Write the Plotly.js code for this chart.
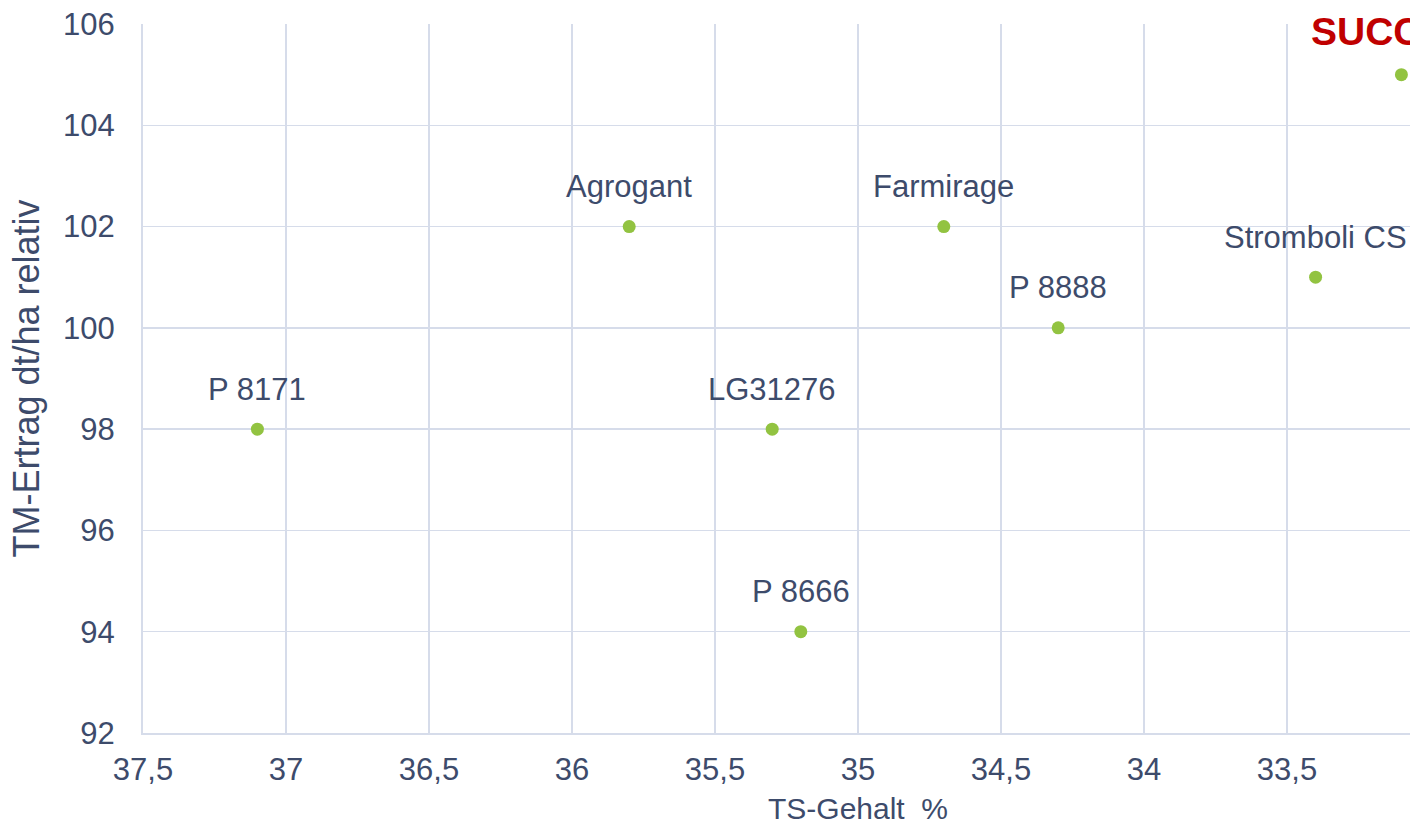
<!DOCTYPE html>
<html>
<head>
<meta charset="utf-8">
<script src="https://cdn.plot.ly/plotly-3.0.1.min.js"></script>
<style>html,body{margin:0;padding:0;overflow:hidden;background:#fff;width:1410px;height:832px}</style>
</head>
<body>
<div id="chart" style="width:1573px;height:832px"></div>
<script>
const varieties = ["P 8171", "Agrogant", "LG31276", "P 8666", "Farmirage", "P 8888", "Stromboli CS"];
const tsGehalt = [37.1, 35.8, 35.3, 35.2, 34.7, 34.3, 33.4];
const tmErtrag = [98, 102, 98, 94, 102, 100, 101];

const highlightName = ["SUCC"];
const highlightTS = [33.1];
const highlightTM = [105];

const xTicks = [37.5, 37, 36.5, 36, 35.5, 35, 34.5, 34, 33.5, 33, 32.5];
const yTicks = [92, 94, 96, 98, 100, 102, 104, 106];

const textColor = "#3d4b6b";
const gridColor = "#d6dcea";
const green = "#92c341";
const fontFam = "Liberation Sans, Arial, sans-serif";

const traces = [
  {
    type: "scatter",
    mode: "markers",
    x: tsGehalt,
    y: tmErtrag,
    marker: {color: green, size: 13},
    cliponaxis: false,
    hoverinfo: "skip"
  },
  {
    type: "scatter",
    mode: "markers",
    x: highlightTS,
    y: highlightTM,
    marker: {color: green, size: 13},
    cliponaxis: false,
    hoverinfo: "skip"
  }
];

const labelAnnotations = varieties.map((name, i) => ({
  x: tsGehalt[i],
  y: tmErtrag[i],
  xref: "x",
  yref: "y",
  text: name,
  showarrow: false,
  xanchor: "center",
  yanchor: "middle",
  yshift: 40,
  font: {family: fontFam, size: 31, color: textColor}
}));

const highlightAnnotations = highlightName.map((name, i) => ({
  x: highlightTS[i],
  y: highlightTM[i],
  xref: "x",
  yref: "y",
  text: "<b>" + name + "</b>",
  showarrow: false,
  xanchor: "left",
  yanchor: "middle",
  xshift: -92,
  yshift: 43,
  font: {family: fontFam, size: 39, color: "#c00000"}
}));

const layout = {
  width: 1573,
  height: 832,
  margin: {l: 143, r: 0, t: 24, b: 99},
  paper_bgcolor: "#ffffff",
  plot_bgcolor: "#ffffff",
  showlegend: false,
  separators: ", ",
  font: {family: fontFam, color: textColor, size: 31},
  xaxis: {
    range: [37.5, 32.5],
    tickvals: xTicks,
    ticktext: xTicks.map(v => String(v).replace(".", ",")),
    showgrid: true,
    gridcolor: gridColor,
    gridwidth: 1.5,
    showline: true,
    linecolor: gridColor,
    linewidth: 2,
    zeroline: false,
    ticks: "",
    ticklabelstandoff: 8,
    tickfont: {family: fontFam, size: 31, color: textColor},
    title: {text: "TS-Gehalt  %", font: {family: fontFam, size: 30, color: textColor}, standoff: 12}
  },
  yaxis: {
    range: [92, 106],
    tickvals: yTicks,
    showgrid: true,
    gridcolor: gridColor,
    gridwidth: 1.5,
    showline: true,
    linecolor: gridColor,
    linewidth: 2,
    zeroline: false,
    ticks: "",
    ticklabelstandoff: 20,
    tickfont: {family: fontFam, size: 31, color: textColor},
    title: {text: "TM-Ertrag dt/ha relativ", font: {family: fontFam, size: 36, color: textColor}, standoff: 12}
  },
  annotations: labelAnnotations.concat(highlightAnnotations)
};

Plotly.newPlot("chart", traces, layout, {displayModeBar: false, staticPlot: true});
</script>
</body>
</html>
